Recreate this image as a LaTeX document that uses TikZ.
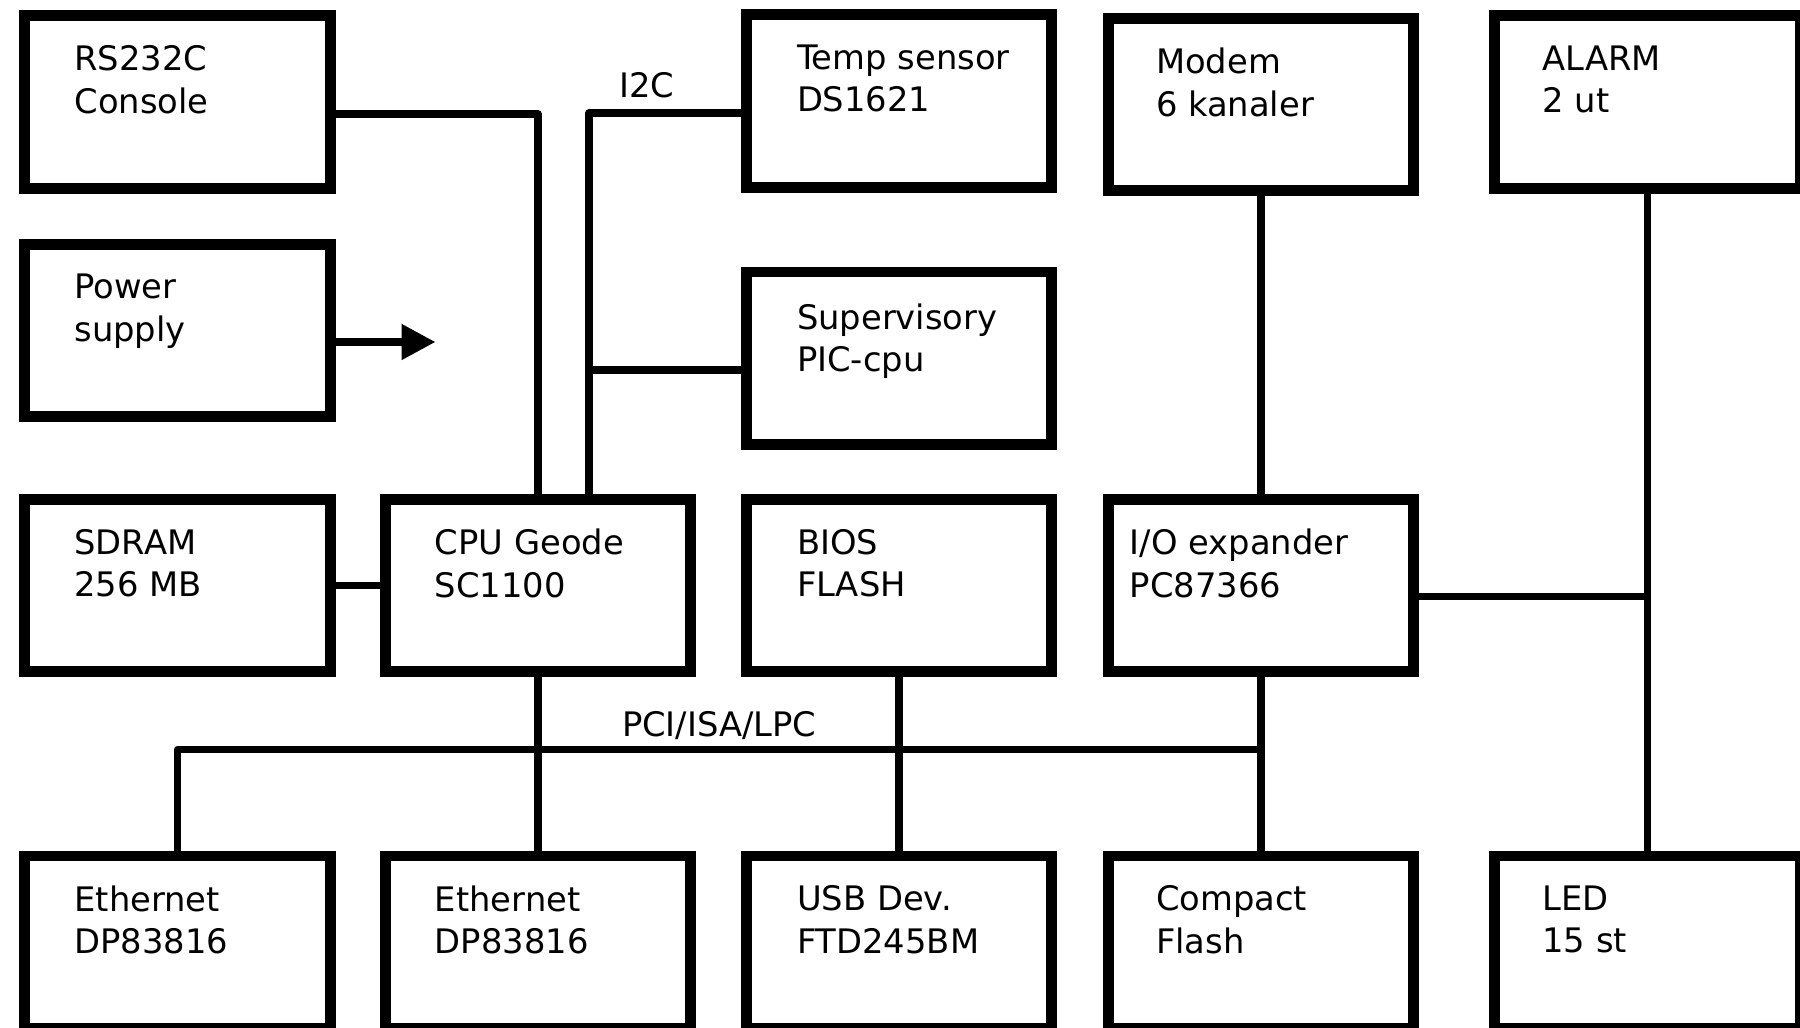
\documentclass[tikz,border=0pt]{standalone}
\usepackage{fontspec}
\setmainfont{DejaVu Sans}
\usetikzlibrary{arrows.meta,positioning}
\tikzset{
  blk/.style={draw=black,line width=3.1pt,minimum width=3.05cm,
              minimum height=1.72cm,inner sep=0pt},
  blktext/.style={anchor=north west,align=left,inner sep=0pt,outer sep=0pt,
                  font=\fontsize{9.6pt}{12.1pt}\selectfont},
  buslabel/.style={anchor=base,inner sep=0pt,outer sep=0pt,
                   font=\fontsize{9.6pt}{12.1pt}\selectfont},
  wire/.style={draw=black,line width=2.2pt,line join=round},
  pwrarr/.style={wire,-{Triangle[length=3.4mm,width=3.4mm]}}
}

\begin{document}
\begin{tikzpicture}[x=0.01cm,y=-0.01cm]
    \path[use as bounding box] (0,0) rectangle (1800,1027);
    \fill[white] (0,0) rectangle (1800,1027);
    % blocks
    \node[blk] (rs232)  at (177.5,102)   {};
    \node[blk] (power)  at (177.5,330.5) {};
    \node[blk] (sdram)  at (177.5,585.5) {};
    \node[blk] (eth1)   at (177.5,942)   {};
    \node[blk] (cpu)    at (538,585.5)   {};
    \node[blk] (eth2)   at (538,942)     {};
    \node[blk] (temp)   at (899,101)     {};
    \node[blk] (superv) at (899,358)     {};
    \node[blk] (bios)   at (899,585.5)   {};
    \node[blk] (usb)    at (899,942)     {};
    \node[blk] (modem)  at (1261,104.5)  {};
    \node[blk] (ioexp)  at (1261,585.5)  {};
    \node[blk] (cf)     at (1261,942)    {};
    \node[blk] (alarm)  at (1647.5,102)  {};
    \node[blk] (led)    at (1647.5,942)  {};
    % texts
    \node[blktext,below right=0.35cm and 0.55cm of rs232.north west] (rs232-t) {RS232C\\Console};
    \node[blktext,below right=0.35cm and 0.55cm of power.north west] (power-t) {Power\\supply};
    \node[blktext,below right=0.35cm and 0.55cm of sdram.north west] (sdram-t) {SDRAM\\256 MB};
    \node[blktext,below right=0.35cm and 0.55cm of eth1.north west] (eth1-t) {Ethernet\\DP83816};
    \node[blktext,below right=0.35cm and 0.55cm of cpu.north west] (cpu-t) {CPU Geode\\SC1100};
    \node[blktext,below right=0.35cm and 0.55cm of eth2.north west] (eth2-t) {Ethernet\\DP83816};
    \node[blktext,below right=0.35cm and 0.56cm of temp.north west] (temp-t) {Temp sensor\\DS1621};
    \node[blktext,below right=0.37cm and 0.56cm of superv.north west] (superv-t) {Supervisory\\PIC-cpu};
    \node[blktext,below right=0.35cm and 0.56cm of bios.north west] (bios-t) {BIOS\\FLASH};
    \node[blktext,below right=0.35cm and 0.56cm of usb.north west] (usb-t) {USB Dev.\\FTD245BM};
    \node[blktext,below right=0.35cm and 0.53cm of modem.north west] (modem-t) {Modem\\6 kanaler};
    \node[blktext,below right=0.35cm and 0.27cm of ioexp.north west] (ioexp-t) {I/O expander\\PC87366};
    \node[blktext,below right=0.35cm and 0.53cm of cf.north west] (cf-t) {Compact\\Flash};
    \node[blktext,below right=0.35cm and 0.53cm of alarm.north west] (alarm-t) {ALARM\\2 ut};
    \node[blktext,below right=0.35cm and 0.53cm of led.north west] (led-t) {LED\\15 st};
    % connections
    \coordinate (busrow) at (0,749.6);
    \coordinate (pwrtip) at ([shift={(100,11.5)}]power.east);
    \draw[pwrarr] ([yshift=-1.15mm]power.east) -- (pwrtip);
    \draw[wire] ([yshift=-1.2mm]rs232.east) -| (cpu.north);
    \draw[wire] ([xshift=5.1mm]cpu.north) |- node[buslabel,pos=0.69,yshift=4.4pt] (i2c) {I2C} ([yshift=-1.2mm]temp.west);
    \draw[wire] ([yshift=-1.2mm]superv.west) -| ([xshift=5.1mm]cpu.north);
    \draw[wire] (sdram) -- (cpu);
    \draw[wire] (cpu) -- (eth2);
    \draw[wire] (bios) -- (usb);
    \draw[wire] (modem) -- (ioexp);
    \draw[wire] (ioexp) -- (cf);
    \draw[wire] (alarm) -- (led);
    \draw[wire] ([yshift=-1.1mm]ioexp.east) -- ([yshift=-1.1mm]ioexp.east -| alarm.south);
    \draw[wire] (eth1) |- node[buslabel,pos=0.75,yshift=3.6pt] (pci) {PCI/ISA/LPC} (cf.north |- busrow);
\end{tikzpicture}
\end{document}
